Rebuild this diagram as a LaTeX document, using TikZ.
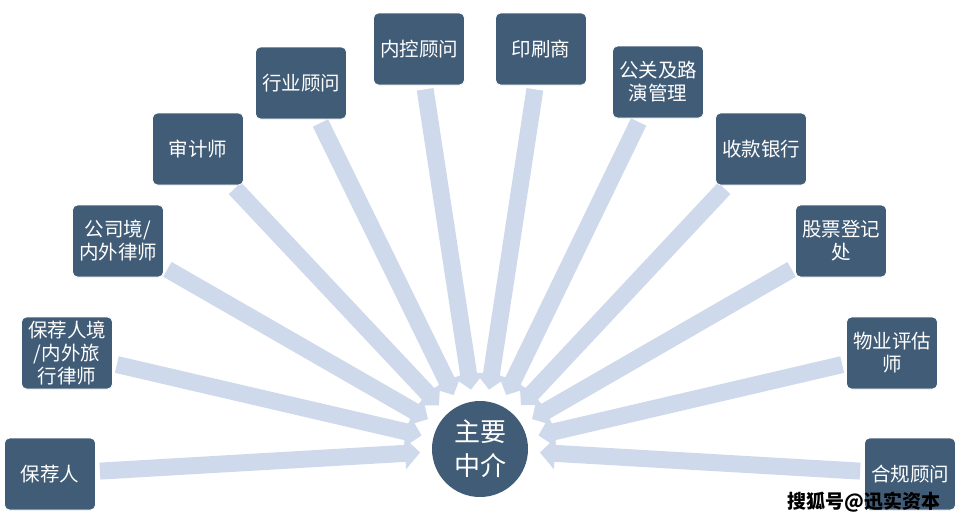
\documentclass[tikz,border=0pt]{standalone}
\usepackage{fontspec}
\newfontfamily\cjk{Noto Sans CJK SC}
\usetikzlibrary{arrows.meta,backgrounds}
\definecolor{boxc}{HTML}{415C76}
\definecolor{arrc}{HTML}{CFD9EC}
\begin{document}
\begin{tikzpicture}[x=1pt,y=-1pt,
  box/.style={rectangle, rounded corners=5pt, fill=boxc, draw=white, line width=0.8pt,
    minimum width=91pt, minimum height=72pt, inner sep=2pt, align=center, text=white,
    font=\cjk\fontsize{19.5}{23}\selectfont},
  hub/.style={circle, fill=boxc, minimum size=96pt, inner sep=0pt, outer sep=0pt,
    align=center, text=white, font=\cjk\fontsize{26}{34}\selectfont},
  flow/.style={draw=arrc, line width=17pt, -{Triangle[length=15pt,width=31pt]},
    shorten <=4pt, shorten >=12pt},
  wmark/.style={font=\cjk\bfseries\fontsize{19}{20}\selectfont, text=black}]
\useasboundingbox (0,0) rectangle (965,525);
\node[hub] (c) at (480,449) {主要\\中介};
\node[box] (b1) at (50,474) {保荐人};
\node[box] (b2) at (67,353) {保荐人境\\/内外旅\\行律师};
\node[box] (b3) at (118,241) {公司境/\\内外律师};
\node[box] (b4) at (198,149) {审计师};
\node[box] (b5) at (301,83) {行业顾问};
\node[box] (b6) at (419,49) {内控顾问};
\node[box] (b7) at (541,49) {印刷商};
\node[box] (b8) at (658,82) {公关及路\\演管理};
\node[box] (b9) at (761,149) {收款银行};
\node[box] (b10) at (841,241) {股票登记\\处};
\node[box] (b11) at (892,353) {物业评估\\师};
\node[box] (b12) at (910,474) {合规顾问};
\begin{scope}[on background layer]
\foreach \n in {b1,b2,b3,b4,b5,b6,b7,b8,b9,b10,b11,b12}
  \draw[flow] (\n) -- (c);
\end{scope}
\node[wmark] (wm) at (864,502) {搜狐号@迅实资本};
\end{tikzpicture}
\end{document}
